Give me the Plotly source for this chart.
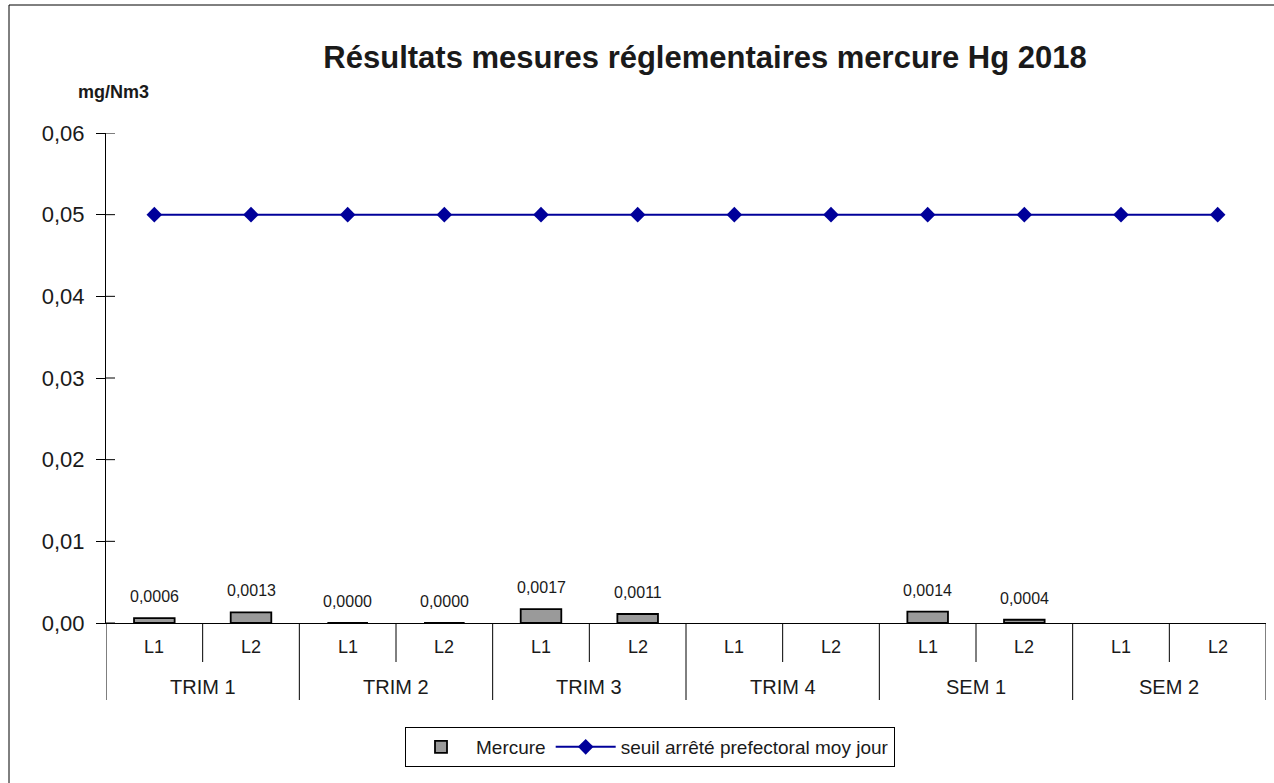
import plotly.graph_objects as go

groups = ["TRIM 1", "TRIM 2", "TRIM 3", "TRIM 4", "SEM 1", "SEM 2"]
subs = ["L1", "L2"]
mercure = [0.0006, 0.0013, 0.0000, 0.0000, 0.0017, 0.0011, None, None, 0.0014, 0.0004, None, None]
seuil = [0.05] * 12
y_ticks = [0, 0.01, 0.02, 0.03, 0.04, 0.05, 0.06]

W, H = 1274, 783
ML, MR, MT, MB = 106, 8, 133, 160
PW = W - ML - MR
PH = H - MT - MB

n = len(groups) * len(subs)
xs = list(range(n))
sub_labels = [s for g in groups for s in subs]
FONT = "Liberation Sans, Arial, sans-serif"
TXT = "#1a1a1a"


def xp(px):
    return (px - ML) / PW


def yp(px):
    return (H - MB - px) / PH


fig = go.Figure()
fig.add_trace(go.Bar(
    x=xs, y=mercure, name="Mercure", width=0.42,
    marker=dict(color="#9a9a9a", line=dict(color="#000000", width=1.8)),
))
fig.add_trace(go.Scatter(
    x=xs, y=seuil, name="seuil arrêté prefectoral moy jour", mode="lines+markers",
    line=dict(color="#00009a", width=2),
    marker=dict(symbol="diamond", size=12, color="#00009a"),
))

shapes = []
annotations = []

# data labels
for x, v in zip(xs, mercure):
    if v is None:
        continue
    annotations.append(dict(x=x, y=v, xref="x", yref="y", text=f"{v:.4f}".replace(".", ","),
                            showarrow=False, yanchor="bottom", yshift=11,
                            font=dict(size=16, color=TXT, family=FONT)))

# category dividers below the x axis
for i in range(n + 1):
    xpos = i - 0.5
    depth = 77 if i % 2 == 0 else 39
    shapes.append(dict(type="line", xref="x", yref="paper", x0=xpos, x1=xpos,
                       y0=0, y1=-depth / PH, line=dict(color="#000000", width=1)))
for i, lab in enumerate(sub_labels):
    annotations.append(dict(x=xs[i], y=-24 / PH, xref="x", yref="paper", text=lab,
                            showarrow=False, yanchor="middle",
                            font=dict(size=18, color=TXT, family=FONT)))
for gi, g in enumerate(groups):
    annotations.append(dict(x=gi * len(subs) + (len(subs) - 1) / 2, y=-64 / PH, xref="x", yref="paper",
                            text=g, showarrow=False, yanchor="middle",
                            font=dict(size=20, color=TXT, family=FONT)))

# inner half of the cross ticks on the y axis
for t in y_ticks:
    shapes.append(dict(type="line", xref="paper", yref="y", x0=0, x1=9 / PW,
                       y0=t, y1=t, line=dict(color="#000000", width=1)))

annotations.append(dict(x=xp(113), y=yp(92), xref="paper", yref="paper",
                        xanchor="center", yanchor="middle", text="<b>mg/Nm3</b>",
                        showarrow=False, font=dict(size=18, color=TXT, family=FONT)))

# outer chart border
shapes.append(dict(type="rect", xref="paper", yref="paper",
                   x0=xp(9), x1=xp(W + 20), y0=yp(H + 20), y1=yp(5),
                   line=dict(color="#000000", width=1)))

fig.update_layout(
    width=W, height=H,
    margin=dict(l=ML, r=MR, t=MT, b=MB, autoexpand=False),
    paper_bgcolor="white", plot_bgcolor="white",
    separators=", ",
    title=dict(text="<b>Résultats mesures réglementaires mercure Hg 2018</b>",
               x=705 / W, xanchor="center", y=1 - 57 / H, yanchor="middle",
               font=dict(size=31, color=TXT, family=FONT)),
    xaxis=dict(range=[-0.5, n - 0.5], showticklabels=False, ticks="",
               showline=True, linecolor="#000000", linewidth=1, showgrid=False,
               zeroline=False, fixedrange=True, automargin=False),
    yaxis=dict(range=[0, 0.06], tickvals=y_ticks, tickformat=".2f",
               ticks="outside", ticklen=9, tickcolor="#000000", ticklabelstandoff=7,
               showline=True, linecolor="#000000", linewidth=1, showgrid=False,
               zeroline=False, automargin=False,
               tickfont=dict(size=22, color=TXT, family=FONT)),
    legend=dict(orientation="h", x=xp(650), xanchor="center", y=yp(747), yanchor="middle",
                bordercolor="#000000", borderwidth=1, bgcolor="white",
                font=dict(size=19, color=TXT, family=FONT), itemwidth=60),
    shapes=shapes, annotations=annotations,
    showlegend=True,
)

fig.write_html("out.html", config={"displayModeBar": False},
               post_script="document.body.style.margin='0';")
